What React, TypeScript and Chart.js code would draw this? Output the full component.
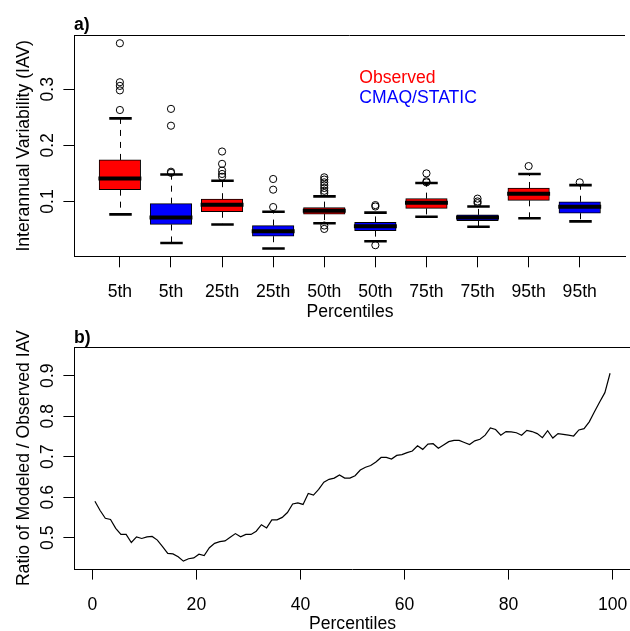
import React, { useEffect, useRef } from 'react';
import { Chart, registerables } from 'chart.js';
Chart.register(...registerables);

// ---------- Panel a) data ----------
const GROUP_LABELS = ['5th', '5th', '25th', '25th', '50th', '50th', '75th', '75th', '95th', '95th'];
const POSITIONS = [1, 2, 3, 4, 5, 6, 7, 8, 9, 10];
const GROUP_COLORS = ['#FF0000', '#0000FF', '#FF0000', '#0000FF', '#FF0000', '#0000FF', '#FF0000', '#0000FF', '#FF0000', '#0000FF'];
const LOWER_WHISKER = [0.077, 0.026, 0.059, 0.016, 0.061, 0.029, 0.0727, 0.055, 0.070, 0.0644];
const Q1 = [0.121, 0.059, 0.0816, 0.038, 0.0775, 0.048, 0.0876, 0.0656, 0.102, 0.079];
const MEDIAN = [0.141, 0.0715, 0.094, 0.047, 0.0834, 0.056, 0.0976, 0.0715, 0.1137, 0.0905];
const Q3 = [0.174, 0.096, 0.104, 0.057, 0.089, 0.0626, 0.105, 0.076, 0.124, 0.0994];
const UPPER_WHISKER = [0.248, 0.148, 0.137, 0.0816, 0.109, 0.080, 0.133, 0.091, 0.149, 0.129];
const OUTLIERS = [
  [0.382, 0.3125, 0.306, 0.298, 0.263],
  [0.265, 0.235, 0.153, 0.151],
  [0.189, 0.167, 0.155, 0.149, 0.144],
  [0.140, 0.121, 0.090],
  [0.143, 0.139, 0.134, 0.129, 0.124, 0.119, 0.115, 0.057, 0.051],
  [0.0935, 0.091, 0.022],
  [0.150, 0.136, 0.134],
  [0.105, 0.100, 0.097],
  [0.163],
  [0.134],
];
const A_Y_TICKS = [0.1, 0.2, 0.3];
const LEGEND_LABELS = ['Observed', 'CMAQ/STATIC'];
const LEGEND_COLORS = ['#FF0000', '#0000FF'];

// ---------- Panel b) data ----------
const PERCENTILES = [
  0.5, 1.5, 2.5, 3.5, 4.5, 5.5, 6.5, 7.5, 8.5, 9.5,
  10.5, 11.5, 12.5, 13.5, 14.5, 15.5, 16.5, 17.5, 18.5, 19.5,
  20.5, 21.5, 22.5, 23.5, 24.5, 25.5, 26.5, 27.5, 28.5, 29.5,
  30.5, 31.5, 32.5, 33.5, 34.5, 35.5, 36.5, 37.5, 38.5, 39.5,
  40.5, 41.5, 42.5, 43.5, 44.5, 45.5, 46.5, 47.5, 48.5, 49.5,
  50.5, 51.5, 52.5, 53.5, 54.5, 55.5, 56.5, 57.5, 58.5, 59.5,
  60.5, 61.5, 62.5, 63.5, 64.5, 65.5, 66.5, 67.5, 68.5, 69.5,
  70.5, 71.5, 72.5, 73.5, 74.5, 75.5, 76.5, 77.5, 78.5, 79.5,
  80.5, 81.5, 82.5, 83.5, 84.5, 85.5, 86.5, 87.5, 88.5, 89.5,
  90.5, 91.5, 92.5, 93.5, 94.5, 95.5, 96.5, 97.5, 98.5, 99.5,
];
const RATIO = [
  0.590, 0.567, 0.548, 0.545, 0.523, 0.508, 0.508, 0.488, 0.502, 0.498,
  0.502, 0.503, 0.494, 0.478, 0.461, 0.460, 0.453, 0.442, 0.448, 0.450,
  0.459, 0.456, 0.475, 0.486, 0.490, 0.492, 0.501, 0.510, 0.502, 0.508,
  0.508, 0.516, 0.532, 0.524, 0.544, 0.544, 0.550, 0.562, 0.583, 0.586,
  0.582, 0.609, 0.605, 0.619, 0.637, 0.644, 0.647, 0.655, 0.647, 0.647,
  0.653, 0.667, 0.674, 0.678, 0.687, 0.698, 0.698, 0.694, 0.703, 0.705,
  0.710, 0.714, 0.727, 0.718, 0.731, 0.732, 0.721, 0.729, 0.737, 0.740,
  0.740, 0.735, 0.730, 0.739, 0.743, 0.753, 0.771, 0.767, 0.753, 0.762,
  0.761, 0.759, 0.753, 0.765, 0.762, 0.757, 0.747, 0.764, 0.746, 0.757,
  0.755, 0.753, 0.751, 0.766, 0.769, 0.786, 0.811, 0.835, 0.858, 0.906,
];
const B_X_TICKS = [0, 20, 40, 60, 80, 100];
const B_Y_TICKS = [0.5, 0.6, 0.7, 0.8, 0.9];

const FONT_FAMILY = '"Liberation Sans", Arial, Helvetica, sans-serif';
const FONT_SIZE = 17.6;
const FONT = `${FONT_SIZE}px ${FONT_FAMILY}`;
const BOLD_FONT = `bold ${FONT_SIZE}px ${FONT_FAMILY}`;

const TOP_H = 340;
const BOT_TOP = 300;
const BOT_H = 331;

function drawRAxesText(chart: any, o: {
  yTicks: number[]; yTitle: string; xTitle: string; panel: string;
  xTickLabels?: { value: number; label: string }[];
}) {
  const { ctx, chartArea, scales } = chart;
  const x = scales.x;
  const y = scales.y;
  ctx.save();
  // top frame line
  ctx.strokeStyle = '#000';
  ctx.lineWidth = 1;
  ctx.beginPath();
  ctx.moveTo(chartArea.left, Math.round(chartArea.top) + 0.5);
  ctx.lineTo(chartArea.right, Math.round(chartArea.top) + 0.5);
  ctx.stroke();

  ctx.fillStyle = '#000';
  ctx.font = FONT;
  ctx.textBaseline = 'alphabetic';
  // x tick labels
  ctx.textAlign = 'center';
  const xt = o.xTickLabels || [];
  xt.forEach((t) => {
    ctx.fillText(t.label, x.getPixelForValue(t.value), chartArea.bottom + 40.5);
  });
  // x title
  ctx.fillText(o.xTitle, (chartArea.left + chartArea.right + 1) / 2, chartArea.bottom + 60.4);
  // y tick labels (rotated)
  o.yTicks.forEach((v) => {
    ctx.save();
    ctx.translate(52.5, y.getPixelForValue(v));
    ctx.rotate(-Math.PI / 2);
    ctx.fillText(v.toFixed(1), 0, 0);
    ctx.restore();
  });
  // y title
  ctx.save();
  ctx.translate(28.8, (chartArea.top + chartArea.bottom) / 2);
  ctx.rotate(-Math.PI / 2);
  ctx.fillText(o.yTitle, 0, 0);
  ctx.restore();
  // panel letter
  ctx.font = BOLD_FONT;
  ctx.textAlign = 'left';
  ctx.fillText(o.panel, chartArea.left, chartArea.top - 4.8);
  ctx.restore();
}

export default function App() {
  const topRef = useRef<HTMLCanvasElement>(null);
  const botRef = useRef<HTMLCanvasElement>(null);

  useEffect(() => {
    if (!topRef.current || !botRef.current) return;

    const boxPlugin = {
      id: 'boxExtras',
      beforeDatasetsDraw(chart: any) {
        const { ctx, scales } = chart;
        const x = scales.x;
        const y = scales.y;
        ctx.save();
        ctx.strokeStyle = '#000';
        POSITIONS.forEach((p, i) => {
          const cx = Math.round(x.getPixelForValue(p)) + 0.5;
          ctx.lineWidth = 1;
          ctx.setLineDash([6, 6]);
          ctx.beginPath();
          ctx.moveTo(cx, y.getPixelForValue(Q3[i]));
          ctx.lineTo(cx, y.getPixelForValue(UPPER_WHISKER[i]));
          ctx.moveTo(cx, y.getPixelForValue(Q1[i]));
          ctx.lineTo(cx, y.getPixelForValue(LOWER_WHISKER[i]));
          ctx.stroke();
          ctx.setLineDash([]);
          const half = x.getPixelForValue(p + 0.22) - x.getPixelForValue(p);
          ctx.lineWidth = 2.6;
          ctx.beginPath();
          ctx.moveTo(cx - half, y.getPixelForValue(UPPER_WHISKER[i]));
          ctx.lineTo(cx + half, y.getPixelForValue(UPPER_WHISKER[i]));
          ctx.moveTo(cx - half, y.getPixelForValue(LOWER_WHISKER[i]));
          ctx.lineTo(cx + half, y.getPixelForValue(LOWER_WHISKER[i]));
          ctx.stroke();
        });
        ctx.restore();
      },
      afterDatasetDraw(chart: any, args: any) {
        if (args.index !== 0) return;
        const { ctx, scales } = chart;
        const x = scales.x;
        const y = scales.y;
        ctx.save();
        ctx.strokeStyle = '#000';
        ctx.lineWidth = 4;
        POSITIONS.forEach((p, i) => {
          const cx = x.getPixelForValue(p);
          const half = x.getPixelForValue(p + 0.42) - cx;
          ctx.beginPath();
          ctx.moveTo(cx - half, y.getPixelForValue(MEDIAN[i]));
          ctx.lineTo(cx + half, y.getPixelForValue(MEDIAN[i]));
          ctx.stroke();
        });
        ctx.restore();
      },
      afterDraw(chart: any) {
        drawRAxesText(chart, {
          yTicks: A_Y_TICKS,
          yTitle: 'Interannual Variability (IAV)',
          xTitle: 'Percentiles',
          panel: 'a)',
          xTickLabels: POSITIONS.map((v, i) => ({ value: v, label: GROUP_LABELS[i] })),
        });
        const { ctx } = chart;
        ctx.save();
        ctx.font = FONT;
        ctx.textAlign = 'left';
        ctx.textBaseline = 'alphabetic';
        LEGEND_LABELS.forEach((l, i) => {
          ctx.fillStyle = LEGEND_COLORS[i];
          ctx.fillText(l, 359.3, 82.7 + i * 20.1);
        });
        ctx.restore();
      },
    };

    const outlierPoints: { x: number; y: number }[] = [];
    OUTLIERS.forEach((arr, i) => arr.forEach((v) => outlierPoints.push({ x: POSITIONS[i], y: v })));

    const axisCommon = (ticks: number[], isX: boolean, size: number) => ({
      type: 'linear' as const,
      offset: false,
      grid: { drawOnChartArea: false, drawTicks: true, tickLength: 10.6, tickColor: '#000', tickWidth: 1, offset: false },
      border: { display: true, color: '#000', width: 1 },
      ticks: { display: false },
      afterBuildTicks: (s: any) => { s.ticks = ticks.map((v) => ({ value: v })); },
      afterFit: (s: any) => { if (isX) s.height = size; else s.width = size; },
    });

    const top = new Chart(topRef.current, {
      type: 'bar',
      data: {
        datasets: [
          {
            type: 'bar',
            data: POSITIONS.map((p, i) => ({ x: p, y: [Q1[i], Q3[i]] })) as any,
            backgroundColor: GROUP_COLORS,
            borderColor: '#000',
            borderWidth: 1,
            borderSkipped: false,
            barThickness: 41.5,
            order: 2,
          } as any,
          {
            type: 'scatter',
            data: outlierPoints,
            pointRadius: 3.6,
            pointBorderColor: '#000',
            pointBackgroundColor: 'rgba(0,0,0,0)',
            pointBorderWidth: 1,
            order: 0,
          } as any,
        ],
      },
      options: {
        responsive: false,
        animation: false,
        devicePixelRatio: 1,
        events: [],
        layout: { padding: { top: 35, left: 0, right: 0, bottom: 0 } },
        plugins: { legend: { display: false }, tooltip: { enabled: false } },
        scales: {
          x: { ...axisCommon(POSITIONS, true, TOP_H - 256.7), min: 0.102, max: 10.886 },
          y: { ...axisCommon(A_Y_TICKS, false, 74), min: 0.0015, max: 0.3967 },
        },
      } as any,
      plugins: [boxPlugin],
    });

    const linePlugin = {
      id: 'lineExtras',
      afterDraw(chart: any) {
        drawRAxesText(chart, {
          yTicks: B_Y_TICKS,
          yTitle: 'Ratio of Modeled / Observed IAV',
          xTitle: 'Percentiles',
          panel: 'b)',
          xTickLabels: B_X_TICKS.map((v) => ({ value: v, label: String(v) })),
        });
      },
    };

    const bot = new Chart(botRef.current, {
      type: 'line',
      data: {
        datasets: [
          {
            data: PERCENTILES.map((p, i) => ({ x: p, y: RATIO[i] })),
            borderColor: '#000',
            borderWidth: 1.2,
            pointRadius: 0,
            tension: 0,
            fill: false,
          },
        ],
      },
      options: {
        responsive: false,
        animation: false,
        devicePixelRatio: 1,
        events: [],
        layout: { padding: { top: 47.3, left: 0, right: 0, bottom: 0 } },
        plugins: { legend: { display: false }, tooltip: { enabled: false } },
        scales: {
          x: { ...axisCommon(B_X_TICKS, true, BOT_H - 269), min: -3.517, max: 103.33 },
          y: { ...axisCommon(B_Y_TICKS, false, 74), min: 0.4226, max: 0.970 },
        },
      } as any,
      plugins: [linePlugin],
    });

    return () => {
      top.destroy();
      bot.destroy();
    };
  }, []);

  return (
    <div style={{ position: 'absolute', left: 0, top: 0, width: 630, height: 631, background: '#fff', overflow: 'hidden' }}>
      <canvas ref={topRef} width={630} height={TOP_H} style={{ position: 'absolute', left: 0, top: 0, width: 630, height: TOP_H }} />
      <canvas ref={botRef} width={630} height={BOT_H} style={{ position: 'absolute', left: 0, top: BOT_TOP, width: 630, height: BOT_H }} />
    </div>
  );
}
